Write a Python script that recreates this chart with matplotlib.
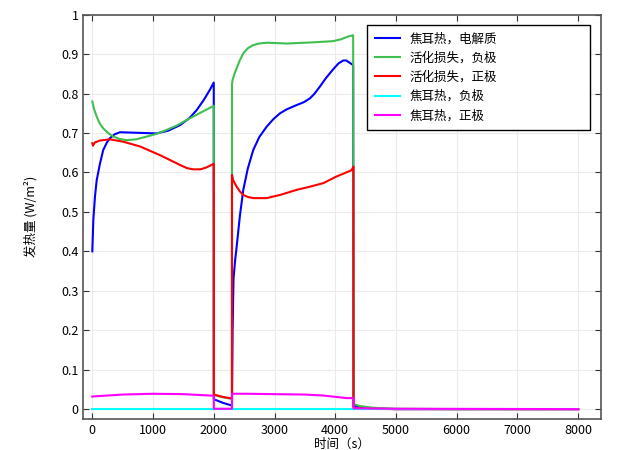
import matplotlib
matplotlib.use("Agg")
import matplotlib.pyplot as plt
from matplotlib.ticker import FuncFormatter, MultipleLocator

plt.rcParams['font.family'] = ['Noto Sans CJK SC', 'DejaVu Sans']

# ---- data ----
blue_t = [0, 17, 44, 72, 127, 180, 240, 290, 370, 456, 670, 1060, 1250, 1444, 1600, 1718, 1840, 1937, 2000,
          2001, 2150, 2299,
          2300, 2310, 2325, 2350, 2377, 2430, 2486, 2560, 2650, 2750, 2870, 2980, 3090, 3200, 3365, 3480, 3584, 3660, 3748, 3850, 3968, 4050, 4132, 4180, 4240, 4295,
          4300, 4400, 4600, 4800, 5000, 6000, 8000]
blue_y = [0.40, 0.48, 0.539, 0.58, 0.623, 0.657, 0.676, 0.687, 0.697, 0.702, 0.701, 0.699, 0.706, 0.720, 0.738, 0.758, 0.785, 0.810, 0.828,
          0.025, 0.016, 0.009,
          0.01, 0.20, 0.33, 0.375, 0.412, 0.49, 0.556, 0.61, 0.657, 0.69, 0.716, 0.735, 0.750, 0.760, 0.771, 0.778, 0.788, 0.80, 0.818, 0.84, 0.862, 0.876, 0.884, 0.884, 0.878, 0.872,
          0.009, 0.005, 0.002, 0.001, 0.0, 0.0, 0.0]

green_t = [0, 30, 72, 120, 180, 260, 346, 450, 566, 720, 895, 1060, 1225, 1390, 1554, 1750, 1937, 2000,
           2001, 2150, 2299,
           2300, 2310, 2340, 2377, 2430, 2486, 2560, 2650, 2750, 2870, 3200, 3640, 3968, 4100, 4200, 4295,
           4300, 4400, 4600, 4800, 5000, 6000, 8000]
green_y = [0.78, 0.760, 0.742, 0.725, 0.712, 0.700, 0.691, 0.685, 0.682, 0.684, 0.691, 0.698, 0.708, 0.719, 0.733, 0.749, 0.764, 0.769,
           0.036, 0.030, 0.026,
           0.825, 0.835, 0.850, 0.864, 0.885, 0.902, 0.915, 0.923, 0.927, 0.929, 0.927, 0.930, 0.933, 0.938, 0.944, 0.948,
           0.013, 0.008, 0.004, 0.002, 0.001, 0.0, 0.0]

red_t = [0, 11, 40, 127, 290, 510, 785, 1114, 1300, 1444, 1560, 1663, 1780, 1883, 2000,
         2001, 2150, 2299,
         2300, 2320, 2377, 2430, 2486, 2560, 2650, 2870, 3090, 3365, 3584, 3803, 4023, 4150, 4270, 4300,
         4301, 4500, 5000, 8000]
red_y = [0.674, 0.668, 0.676, 0.681, 0.684, 0.678, 0.666, 0.644, 0.630, 0.619, 0.611, 0.608, 0.608, 0.613, 0.622,
         0.037, 0.031, 0.027,
         0.594, 0.58, 0.564, 0.552, 0.543, 0.538, 0.535, 0.535, 0.543, 0.556, 0.564, 0.573, 0.59, 0.598, 0.606, 0.615,
         0.003, 0.001, 0.0, 0.0]

cyan_t = [0, 8000]
cyan_y = [0.0, 0.0]

magenta_t = [0, 500, 1000, 1500, 2000,
             2001, 2299,
             2300, 2500, 3000, 3500, 3800, 4190, 4300,
             4301, 5000, 8000]
magenta_y = [0.032, 0.037, 0.039, 0.038, 0.034,
             0.001, 0.001,
             0.039, 0.039, 0.038, 0.037, 0.0345, 0.028, 0.028,
             0.002, 0.001, 0.0]

labels = ['焦耳热，电解质', '活化损失，负极', '活化损失，正极', '焦耳热，负极', '焦耳热，正极']
colors = ['#0000ff', '#3fbf4f', '#ff0000', '#00ffff', '#ff00ff']

# ---- plot ----
fig = plt.figure(figsize=(6.24, 4.5), dpi=100)
ax = fig.add_axes([0.1338, 0.0689, 0.8293, 0.8984])

series = [(blue_t, blue_y), (green_t, green_y), (red_t, red_y), (cyan_t, cyan_y), (magenta_t, magenta_y)]
for (t, y), lab, c in zip(series, labels, colors):
    ax.plot(t, y, color=c, lw=1.5, label=lab)

ax.set_xlim(-145, 8375)
ax.set_ylim(-0.025, 1.0)
ax.xaxis.set_major_locator(MultipleLocator(1000))
ax.yaxis.set_major_locator(MultipleLocator(0.1))
ax.yaxis.set_major_formatter(FuncFormatter(lambda v, p: '%g' % round(v, 3)))
ax.tick_params(direction='in', top=True, right=True, labelsize=9, length=4, color='#333333')
ax.grid(True, color='#ebebeb', lw=0.8)
ax.set_axisbelow(True)
for s in ax.spines.values():
    s.set_color('#555555')
    s.set_linewidth(1.2)

ax.set_xlabel('时间（s）', fontsize=9, labelpad=1)
ax.set_ylabel('发热量 (W/m²)', fontsize=9, labelpad=17)

leg = ax.legend(loc='upper left', bbox_to_anchor=(0.548, 0.5, 0.431, 0.475), mode='expand',
                borderaxespad=0, fontsize=9, fancybox=False, edgecolor='black', framealpha=1,
                handlelength=2.0, labelspacing=0.5, borderpad=0.6, handletextpad=0.8)
leg.get_frame().set_linewidth(1.0)

fig.savefig('out.png', dpi=100)
